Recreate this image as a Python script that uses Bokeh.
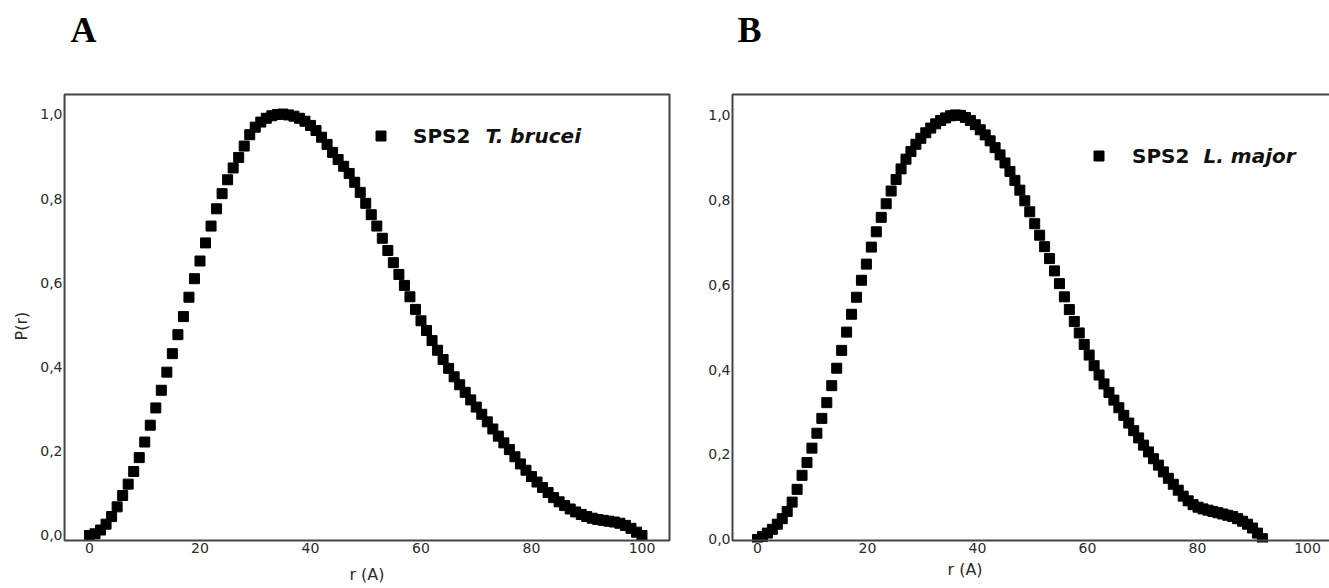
import math
from bokeh.plotting import figure
from bokeh.layouts import row
from bokeh.models import (ColumnDataSource, FixedTicker, CustomJSTickFormatter, Legend,
                          LegendItem, Label, Title, BoxAnnotation)
from bokeh.embed import file_html
from bokeh.resources import INLINE

# ---------------- data ----------------
r_a = [0, 1, 2, 3, 4, 5, 6, 7, 8, 9, 10, 11, 12, 13, 14, 15, 16, 17, 18, 19, 20,
       21, 22, 23, 24, 25, 26, 27, 28, 29, 30, 31, 32, 33, 34, 35, 36, 37, 38, 39, 40,
       41, 42, 43, 44, 45, 46, 47, 48, 49, 50, 51, 52, 53, 54, 55, 56, 57, 58, 59, 60,
       61, 62, 63, 64, 65, 66, 67, 68, 69, 70, 71, 72, 73, 74, 75, 76, 77, 78, 79, 80,
       81, 82, 83, 84, 85, 86, 87, 88, 89, 90, 91, 92, 93, 94, 95, 96, 97, 98, 99, 100]
p_a = [0.000, 0.004, 0.013, 0.027, 0.045, 0.068, 0.095, 0.122, 0.152, 0.185, 0.222,
       0.262, 0.303, 0.345, 0.388, 0.432, 0.477, 0.520, 0.566, 0.610, 0.652,
       0.695, 0.735, 0.776, 0.812, 0.845, 0.873, 0.898, 0.925, 0.952, 0.970,
       0.982, 0.991, 0.997, 1.000, 1.001, 0.999, 0.996, 0.991, 0.984, 0.974,
       0.962, 0.946, 0.929, 0.910, 0.893, 0.877, 0.860, 0.839, 0.815, 0.789,
       0.762, 0.735, 0.706, 0.677, 0.648, 0.620, 0.594, 0.567, 0.537, 0.510,
       0.487, 0.463, 0.440, 0.418, 0.397, 0.377, 0.358, 0.340, 0.322, 0.305,
       0.288, 0.270, 0.253, 0.236, 0.220, 0.204, 0.187, 0.170, 0.155, 0.140,
       0.127, 0.114, 0.102, 0.090, 0.080, 0.071, 0.063, 0.056, 0.050, 0.045,
       0.041, 0.038, 0.036, 0.034, 0.032, 0.029, 0.024, 0.017, 0.008, 0.000]

r_b = [0.0, 0.9, 1.8, 2.7, 3.6, 4.5, 5.4, 6.3, 7.2, 8.1, 9.0, 9.9, 10.8, 11.7, 12.6,
       13.5, 14.4, 15.3, 16.2, 17.1, 18.0, 18.9, 19.8, 20.7, 21.6, 22.5, 23.4, 24.3,
       25.2, 26.1, 27.0, 27.9, 28.8, 29.7, 30.6, 31.5, 32.4, 33.3, 34.2, 35.1, 36.0,
       36.9, 37.8, 38.7, 39.6, 40.5, 41.4, 42.3, 43.2, 44.1, 45.0, 45.9, 46.8, 47.7,
       48.6, 49.5, 50.4, 51.3, 52.2, 53.1, 54.0, 54.9, 55.8, 56.7, 57.6, 58.5, 59.4,
       60.3, 61.2, 62.1, 63.0, 63.9, 64.8, 65.7, 66.6, 67.5, 68.4, 69.3, 70.2, 71.1,
       72.0, 72.9, 73.8, 74.7, 75.6, 76.5, 77.4, 78.3, 79.2, 80.1, 81.0, 81.9, 82.8,
       83.7, 84.6, 85.5, 86.4, 87.3, 88.2, 89.1, 90.0, 90.9, 91.8]
p_b = [0.000, 0.007, 0.015, 0.024, 0.036, 0.049, 0.066, 0.088, 0.118, 0.151, 0.181,
       0.215, 0.250, 0.285, 0.322, 0.362, 0.403, 0.445, 0.488, 0.530, 0.570,
       0.610, 0.648, 0.688, 0.724, 0.758, 0.790, 0.820, 0.847, 0.872, 0.895,
       0.913, 0.930, 0.944, 0.957, 0.968, 0.978, 0.986, 0.992, 0.997, 0.999,
       0.998, 0.993, 0.986, 0.976, 0.964, 0.952, 0.938, 0.922, 0.905, 0.886,
       0.866, 0.845, 0.822, 0.797, 0.771, 0.743, 0.716, 0.689, 0.661, 0.632,
       0.602, 0.571, 0.541, 0.513, 0.486, 0.459, 0.434, 0.409, 0.387, 0.366,
       0.346, 0.328, 0.310, 0.292, 0.274, 0.256, 0.239, 0.222, 0.206, 0.190,
       0.175, 0.159, 0.144, 0.130, 0.116, 0.102, 0.091, 0.082, 0.076, 0.072,
       0.069, 0.066, 0.063, 0.060, 0.057, 0.054, 0.049, 0.043, 0.036, 0.027,
       0.015, 0.002]

x_ticks = [0, 20, 40, 60, 80, 100]
y_ticks = [0.0, 0.2, 0.4, 0.6, 0.8, 1.0]
panel_names = ["A", "B"]
series_names = ["SPS2", "SPS2"]
species = ["T. brucei", "L. major"]
x_label = "r (A)"
y_label = "P(r)"

AX = "#444444"
TXT = "#2a2a2a"
TICK_FONT = "DejaVu Sans"


def make_panel(r, pv, xr, yr, box, fw, mbl, mbr, idx, leg_xy, leg_standoff,
               sp_x, panel_x, is_a):
    p = figure(frame_width=fw, frame_height=542, x_range=xr, y_range=yr,
               min_border_left=mbl, min_border_right=mbr, min_border_top=0,
               min_border_bottom=46, toolbar_location=None, output_backend="svg")
    p.background_fill_color = "white"
    p.border_fill_color = "white"
    p.outline_line_color = None
    p.grid.visible = False

    xa = p.below[0]
    ya = p.left[0]
    for ax in (xa, ya):
        ax.axis_line_color = None
        ax.major_tick_line_color = None
        ax.minor_tick_line_color = None
        ax.major_tick_out = 0
        ax.major_tick_in = 0
        ax.major_label_text_font = TICK_FONT
        ax.major_label_text_font_size = "14px"
        ax.major_label_text_color = TXT
        ax.axis_label_text_font = TICK_FONT
        ax.axis_label_text_font_size = "16px"
        ax.axis_label_text_font_style = "normal"
        ax.axis_label_text_color = TXT
    xa.ticker = FixedTicker(ticks=x_ticks)
    ya.ticker = FixedTicker(ticks=y_ticks)
    ya.formatter = CustomJSTickFormatter(code="return tick.toFixed(1).replace('.', ',');")
    xa.major_label_standoff = 0
    ya.major_label_standoff = 0

    # plot border (frame of the panel)
    p.add_layout(BoxAnnotation(left=box[0], right=box[1], bottom=box[2], top=box[3],
                               fill_color=None, fill_alpha=0, line_color=AX,
                               line_alpha=1.0, line_width=2))

    if is_a:
        xa.axis_label = x_label
        xa.axis_label_standoff = 9
        yt = Title(text=y_label, align="left", offset=202, standoff=10,
                   vertical_align="top", text_font=TICK_FONT, text_font_size="16px",
                   text_font_style="normal", text_color=TXT)
        p.add_layout(yt, "left")
    else:
        xt = Title(text=x_label, align="left", offset=217, standoff=4,
                   text_font=TICK_FONT, text_font_size="16px", text_font_style="normal",
                   text_color=TXT)
        p.add_layout(xt, "below")

    p.add_layout(Label(x=panel_x, y=513, x_units="screen", y_units="screen",
                       text=panel_names[idx], text_font="Liberation Serif",
                       text_font_style="bold", text_font_size="36px",
                       text_color="black", text_baseline="alphabetic", text_align="left"))

    src = ColumnDataSource(dict(r=r, p=pv))
    rend = p.scatter("r", "p", source=src, marker="square", size=10,
                     fill_color="black", line_color="black")
    leg = Legend(items=[LegendItem(label=series_names[idx], renderers=[rend])],
                 location=leg_xy, padding=0, margin=0, spacing=0,
                 glyph_width=25, glyph_height=25, label_height=25,
                 label_standoff=leg_standoff, border_line_color=None,
                 background_fill_alpha=0, label_text_font="DejaVu Sans",
                 label_text_font_style="bold", label_text_font_size="20px",
                 label_text_color="#111111")
    p.add_layout(leg)
    p.add_layout(Label(x=sp_x, y=leg_xy[1] + 12.5, x_units="screen", y_units="screen",
                       text=species[idx], text_font="DejaVu Sans",
                       text_font_style="bold italic", text_font_size="20px",
                       text_color="#111111", text_baseline="middle", text_align="left"))
    return p


pa = make_panel(r_a, p_a, (-4.887, 105.34), (-0.01663, 1.27078),
                (-4.52, 104.98, -0.0119, 1.0475), 609, 62, 17, 0,
                (306, 394), 20, 423, 8, True)
pb = make_panel(r_b, p_b, (-4.909, 104.0), (-0.00706, 1.26824),
                (-4.545, 110.0, -0.00235, 1.047), 599, 42, 0, 1,
                (356, 374), 21, 473, 7, False)

layout = row(pa, pb, spacing=0)
open("out.html", "w").write(file_html(layout, INLINE))
